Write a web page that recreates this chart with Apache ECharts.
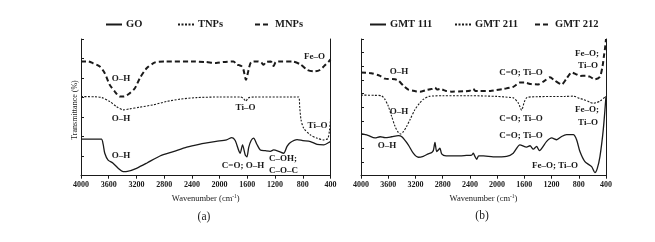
<!DOCTYPE html>
<html>
<head>
<meta charset="utf-8">
<script src="https://cdn.jsdelivr.net/npm/echarts@6/dist/echarts.min.js"></script>
<style>
html,body{margin:0;padding:0;background:#fff;}
#chart{width:655px;height:242px;}
</style>
</head>
<body>
<div id="chart"></div>
<script>
// ---------- Data (wavenumber in cm-1, transmittance in arbitrary offset units) ----------
const xTicks = [4000, 3600, 3200, 2800, 2400, 2000, 1600, 1200, 800, 400];

// Panel (a)
const goWn = [4000, 3900, 3800, 3705, 3680, 3657, 3609, 3537, 3464, 3392, 3330, 3199, 3053, 2861, 2668, 2474, 2282, 2185, 2050, 1900, 1823, 1775, 1727, 1703, 1669, 1630, 1606, 1580, 1545, 1510, 1461, 1413, 1341, 1269, 1221, 1148, 1076, 1027, 979, 882, 800, 690, 593, 497, 425, 400];
const goT  = [1.87, 1.87, 1.87, 1.87, 1.6, 1.15, 0.8, 0.64, 0.38, 0.21, 0.22, 0.38, 0.64, 1.01, 1.23, 1.46, 1.62, 1.68, 1.76, 1.84, 1.95, 1.8, 1.32, 1.15, 1.58, 1.06, 0.97, 1.45, 1.8, 1.92, 1.6, 1.32, 1.28, 1.25, 1.32, 1.25, 1.15, 1.5, 1.7, 1.85, 1.8, 1.75, 1.6, 1.58, 1.7, 1.75];

const tnpWn = [4000, 3800, 3700, 3585, 3488, 3392, 3300, 3150, 2958, 2764, 2571, 2330, 2000, 1700, 1655, 1620, 1590, 1500, 1000, 859, 845, 825, 786, 690, 593, 497, 440, 415, 400];
const tnpT  = [4.05, 4.04, 4.0, 3.8, 3.54, 3.37, 3.42, 3.51, 3.63, 3.8, 3.92, 4.0, 4.03, 4.03, 3.95, 3.82, 3.98, 4.03, 4.03, 4.03, 3.54, 2.86, 2.43, 2.09, 1.92, 1.83, 1.9, 2.3, 2.9];

const mnpWn = [4000, 3900, 3826, 3729, 3657, 3585, 3512, 3440, 3380, 3295, 3223, 3150, 3053, 2933, 2800, 2400, 2200, 2050, 1950, 1800, 1750, 1720, 1680, 1655, 1620, 1583, 1544, 1450, 1400, 1366, 1330, 1260, 1221, 1190, 1100, 954, 834, 737, 642, 560, 473, 425, 400];
const mnpT  = [5.85, 5.85, 5.76, 5.59, 5.25, 4.65, 4.31, 4.05, 4.05, 4.23, 4.48, 5.0, 5.5, 5.8, 5.85, 5.85, 5.82, 5.77, 5.82, 5.85, 5.68, 5.66, 5.6, 5.42, 4.91, 5.4, 5.82, 5.85, 5.8, 5.68, 5.82, 5.85, 5.62, 5.82, 5.85, 5.85, 5.7, 5.42, 5.34, 5.4, 5.68, 5.85, 5.95];

// Panel (b)
const g111Wn = [4000, 3900, 3794, 3720, 3647, 3549, 3452, 3400, 3305, 3232, 3158, 3085, 3011, 2960, 2937, 2913, 2888, 2860, 2840, 2815, 2750, 2600, 2450, 2374, 2350, 2330, 2300, 2270, 2200, 2057, 1860, 1763, 1665, 1567, 1517, 1468, 1420, 1380, 1272, 1198, 1125, 1052, 979, 881, 832, 783, 710, 611, 563, 530, 489, 440, 400];
const g111T  = [3.07, 2.95, 2.76, 2.85, 2.78, 2.85, 2.93, 2.85, 2.26, 1.65, 1.35, 1.42, 1.6, 1.7, 1.84, 2.43, 1.77, 1.9, 2.02, 1.6, 1.45, 1.45, 1.48, 1.5, 1.65, 1.45, 1.2, 1.45, 1.45, 1.38, 1.42, 1.65, 2.26, 2.09, 2.19, 1.94, 2.14, 1.84, 2.51, 2.76, 2.63, 2.87, 3.0, 3.0, 2.63, 1.77, 1.03, 0.66, 0.22, 0.5, 1.4, 3.37, 5.82];

const g211Wn = [4000, 3800, 3700, 3650, 3600, 3550, 3500, 3450, 3420, 3380, 3330, 3280, 3207, 3140, 3080, 3000, 2800, 2400, 2000, 1800, 1763, 1690, 1640, 1600, 1560, 1400, 1000, 881, 783, 734, 636, 587, 538, 489, 400];
const g211T  = [5.9, 5.88, 5.85, 5.6, 5.1, 4.35, 3.61, 3.15, 3.05, 3.2, 3.6, 4.1, 4.84, 5.3, 5.6, 5.8, 5.85, 5.85, 5.8, 5.72, 5.7, 5.33, 4.8, 5.4, 5.72, 5.78, 5.8, 5.82, 5.65, 5.58, 5.38, 5.3, 5.35, 5.45, 5.82];

const g212Wn = [4000, 3850, 3720, 3647, 3500, 3450, 3380, 3305, 3200, 3133, 3050, 2960, 2913, 2880, 2840, 2750, 2668, 2500, 2400, 2350, 2320, 2250, 2100, 2007, 1900, 1763, 1665, 1600, 1500, 1396, 1300, 1224, 1150, 1052, 980, 905, 830, 783, 700, 640, 563, 489, 450, 430, 415, 400];
const g212T  = [7.55, 7.5, 7.3, 7.1, 7.05, 6.95, 6.6, 6.3, 6.18, 6.15, 6.25, 6.35, 6.45, 6.3, 6.35, 6.2, 6.15, 6.17, 6.22, 6.35, 6.2, 6.19, 6.2, 6.27, 6.35, 6.5, 6.81, 6.81, 6.7, 6.68, 6.95, 7.2, 6.95, 6.68, 7.1, 7.55, 7.4, 7.3, 7.32, 7.25, 7.05, 7.25, 8.03, 8.77, 9.3, 10.0];

const namesA = ['GO', 'TNPs', 'MNPs'];
const namesB = ['GMT 111', 'GMT 211', 'GMT 212'];

// ---------- Styling ----------
const SERIF = '"Liberation Serif", "DejaVu Serif", serif';
const INK = '#1a1a1a';
const zip = (a, b) => a.map((v, i) => [v, b[i]]);

const styles = {
  solid:  { color: INK, width: 1.3, type: 'solid' },
  dotted: { color: INK, width: 1.1, type: [2, 1.5] },
  dashed: { color: INK, width: 2, type: [5, 3] }
};

function lineSeries(name, xi, yi, wn, t, st) {
  return {
    name, type: 'line', xAxisIndex: xi, yAxisIndex: yi,
    data: zip(wn, t), showSymbol: false, symbol: 'none', smooth: 0.25,
    lineStyle: st, itemStyle: { color: INK }, animation: false, z: 3
  };
}

function xAx(gi) {
  return {
    type: 'value', gridIndex: gi, min: 400, max: 4000, interval: 400, inverse: true,
    axisLine: { show: true, lineStyle: { color: INK, width: 1 } },
    axisTick: { show: true, inside: false, length: 3, lineStyle: { color: INK } },
    axisLabel: { show: true, margin: 5, fontFamily: SERIF, fontWeight: 'bold', fontSize: 8, color: INK,
      formatter: v => xTicks.includes(v) ? String(v) : '' },
    splitLine: { show: false },
    name: 'Wavenumber (cm{sup|-1})', nameLocation: 'middle', nameGap: 17,
    nameTextStyle: { fontFamily: SERIF, fontSize: 8.5, color: INK, lineHeight: 10,
      rich: { sup: { fontFamily: SERIF, fontSize: 5.5, color: INK, verticalAlign: 'top', lineHeight: 10 } } }
  };
}
function yAx(gi, max) {
  return {
    type: 'value', gridIndex: gi, min: 0, max: max, interval: 1, position: 'left',
    axisLine: { show: true, onZero: false, lineStyle: { color: INK, width: 1 } },
    axisTick: { show: true, inside: true, length: 3, lineStyle: { color: INK } },
    axisLabel: { show: false }, splitLine: { show: false }
  };
}
function yAxRight(gi, max) {
  return {
    type: 'value', gridIndex: gi, min: 0, max: max, position: 'right',
    axisLine: { show: true, onZero: false, lineStyle: { color: INK, width: 1 } },
    axisTick: { show: false }, axisLabel: { show: false }, splitLine: { show: false }
  };
}

function legendAt(name, left) {
  return {
    data: [name], left: left, top: 19, padding: 0, itemWidth: 16, itemHeight: 10, itemGap: 4,
    selectedMode: false,
    itemStyle: { opacity: 0 },
    textStyle: { fontFamily: SERIF, fontWeight: 'bold', fontSize: 10.5, color: INK, padding: [0, 0, 0, -1] }
  };
}

function label(text, x, y, opts) {
  return {
    type: 'text', x: x, y: y, z: 10, silent: true,
    style: Object.assign({ text: text, fill: INK, fontFamily: SERIF, fontWeight: 'bold', fontSize: 9,
      align: 'center', verticalAlign: 'middle' }, opts || {})
  };
}

const graphics = [
  // panel (a) annotations
  label('O\u2013H', 121, 79),
  label('O\u2013H', 121, 119),
  label('O\u2013H', 121, 156),
  label('Ti\u2013O', 245.5, 108),
  label('Fe\u2013O', 314.5, 57),
  label('Ti\u2013O', 317.5, 126),
  label('C=O; O\u2013H', 243, 166),
  label('C\u2013OH;', 269, 159, { align: 'left' }),
  label('C\u2013O\u2013C', 269, 171, { align: 'left' }),
  // panel (b) annotations
  label('O\u2013H', 399, 72),
  label('O\u2013H', 399, 112),
  label('O\u2013H', 387, 146),
  label('C=O; Ti\u2013O', 521, 72.5),
  label('C=O; Ti\u2013O', 521, 118.5),
  label('C=O; Ti\u2013O', 521, 136),
  label('Fe\u2013O;', 587, 53.5),
  label('Ti\u2013O', 588, 65.5),
  label('Fe\u2013O;', 587, 110),
  label('Ti\u2013O', 588, 122.5),
  label('Fe\u2013O; Ti\u2013O', 555, 166),
  // y-axis title
  { type: 'text', x: 75, y: 110, rotation: Math.PI / 2, silent: true,
    style: { text: 'Transmittance (%)', fill: INK, fontFamily: SERIF, fontSize: 8, align: 'center', verticalAlign: 'middle' } },
  // panel captions
  label('(a)', 204, 217, { fontWeight: 'normal', fontSize: 11.5 }),
  label('(b)', 482, 216, { fontWeight: 'normal', fontSize: 11.5 })
];

const chart = echarts.init(document.getElementById('chart'), null, { renderer: 'canvas' });
chart.setOption({
  backgroundColor: '#fff',
  animation: false,
  grid: [
    { left: 81, top: 39, width: 249.5, height: 136.7 },
    { left: 361, top: 39, width: 245, height: 136.7 }
  ],
  xAxis: [xAx(0), xAx(1)],
  yAxis: [yAx(0, 7), yAx(1, 10), yAxRight(0, 7), yAxRight(1, 10)],
  legend: [
    legendAt(namesA[0], 105), legendAt(namesA[1], 177), legendAt(namesA[2], 254),
    legendAt(namesB[0], 369), legendAt(namesB[1], 454), legendAt(namesB[2], 534)
  ],
  series: [
    lineSeries(namesA[0], 0, 0, goWn, goT, styles.solid),
    lineSeries(namesA[1], 0, 0, tnpWn, tnpT, styles.dotted),
    lineSeries(namesA[2], 0, 0, mnpWn, mnpT, styles.dashed),
    lineSeries(namesB[0], 1, 1, g111Wn, g111T, styles.solid),
    lineSeries(namesB[1], 1, 1, g211Wn, g211T, styles.dotted),
    lineSeries(namesB[2], 1, 1, g212Wn, g212T, styles.dashed)
  ],
  graphic: graphics
});
</script>
</body>
</html>
